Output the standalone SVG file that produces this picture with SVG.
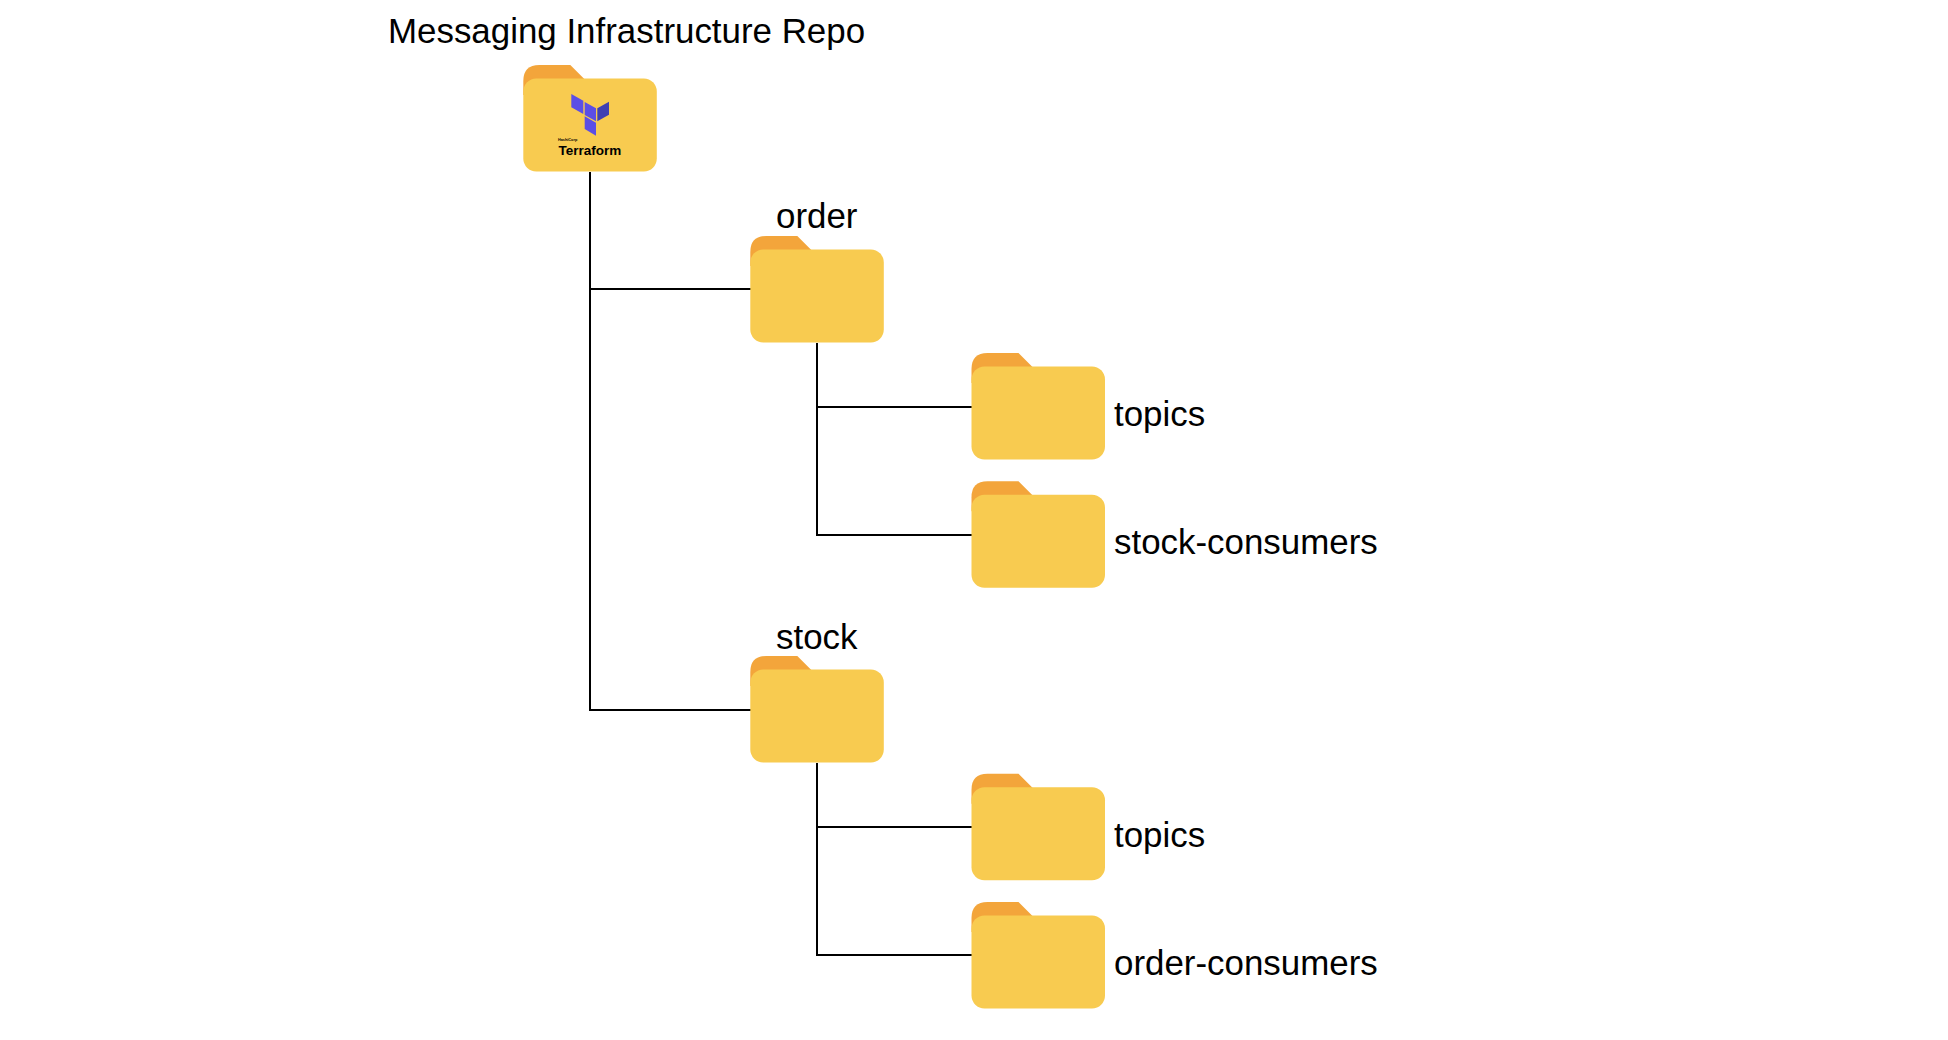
<svg xmlns="http://www.w3.org/2000/svg" width="1948" height="1040" viewBox="0 0 1948 1040">
<style>
.label{font-family:"Liberation Sans",Arial,sans-serif;font-size:34.900px;fill:#000}
.tab{fill:#f3a53b}
.body{fill:#f8cb50}
.conn{fill:none;stroke:#000;stroke-width:2}
.tf{fill:#5c4ee5}
.tfd{fill:#4040b2}
</style>
<defs>
<g id="folder">
<path class="tab" d="M0 16Q0 0 16 0H47L60.500 13.500V30H0Z"/>
<rect class="body" x="0" y="13.500" width="133.500" height="93" rx="13" ry="13"/>
</g>
</defs>
<rect width="1948" height="1040" fill="#fff"/>
<g id="connectors">
<path class="conn" d="M590 172V710H751"/>
<path class="conn" d="M590 289H751"/>
<path class="conn" d="M817 343V535H972"/>
<path class="conn" d="M817 407H972"/>
<path class="conn" d="M817 763V955H972"/>
<path class="conn" d="M817 827H972"/>
</g>
<g id="node-repo">
<use href="#folder" x="523.300" y="65"/>
<polygon class="tf" points="571.300,94 583.300,100.700 583.300,114 571.300,107.300"/>
<polygon class="tf" points="584.700,102 596,108.300 596,121.300 584.700,115"/>
<polygon class="tfd" points="597.300,108.300 609,101.700 609,114.700 597.300,121.300"/>
<polygon class="tf" points="584.700,116.300 596,122.700 596,135.700 584.700,129"/>
<text x="558" y="141" font-family="Liberation Sans,sans-serif" font-size="3.800" font-weight="bold">HashiCorp</text>
<text x="558.500" y="155" font-family="Liberation Sans,sans-serif" font-size="13.500" font-weight="bold">Terraform</text>
<text class="label" x="388" y="43">Messaging Infrastructure Repo</text>
</g>
<g id="node-order">
<use href="#folder" x="750.300" y="236"/>
<text class="label" x="776" y="228">order</text>
</g>
<g id="node-order-topics">
<use href="#folder" x="971.500" y="353"/>
<text class="label" x="1114" y="426">topics</text>
</g>
<g id="node-stock-consumers">
<use href="#folder" x="971.500" y="481.300"/>
<text class="label" x="1114" y="554">stock-consumers</text>
</g>
<g id="node-stock">
<use href="#folder" x="750.300" y="656"/>
<text class="label" x="776" y="649">stock</text>
</g>
<g id="node-stock-topics">
<use href="#folder" x="971.500" y="773.800"/>
<text class="label" x="1114" y="847">topics</text>
</g>
<g id="node-order-consumers">
<use href="#folder" x="971.500" y="902"/>
<text class="label" x="1114" y="975">order-consumers</text>
</g>
</svg>
